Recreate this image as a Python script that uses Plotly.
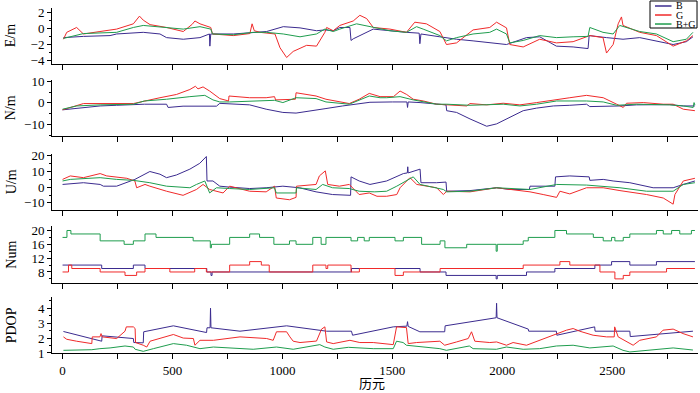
import plotly.graph_objects as go

# ---------------- data (epoch, value) ----------------
E_B = [(4,-1.15),(95,-1.0),(216,-0.9),(246,-0.7),(367,-0.5),(443,-0.7),(473,-1.15),(549,-1.35),(625,-1.15),(663,-0.7),(668,-0.7),(670,-2.2),(672,-0.7),(674,-0.7),(777,-0.7),(867,-0.5),(928,-0.4),(1004,0.2),(1080,0.05),(1155,-0.3),(1193,-0.2),(1231,-0.3),(1261,0.1),(1307,0.1),(1312,-1.5),(1322,-1.3),(1413,-0.1),(1564,-0.5),(1622,-0.6),(1625,-1.9),(1630,-0.7),(1716,-1.05),(1792,-1.35),(1867,-1.55),(1943,-1.8),(2019,-2.0),(2110,-1.15),(2170,-1.05),(2246,-2.2),(2322,-2.3),(2390,-2.5),(2395,-0.9),(2474,-1.15),(2549,-1.35),(2625,-1.15),(2701,-1.55),(2777,-2.0),(2837,-1.65),(2867,-1.05)]
E_G = [(4,-1.35),(19,-0.5),(64,0.1),(95,-0.7),(170,-0.4),(246,-0.1),(322,0.55),(350,1.5),(367,1.0),(398,0.45),(473,0.1),(549,-0.4),(590,0.5),(602,0.9),(625,0.55),(674,0.1),(682,-0.7),(777,-0.9),(852,-0.65),(862,0.55),(872,-0.3),(898,-0.5),(966,-0.7),(989,-2.4),(1019,-3.6),(1049,-2.85),(1110,-2.1),(1155,-2.2),(1193,-0.5),(1201,0.1),(1231,-0.3),(1261,0.35),(1322,0.9),(1352,1.6),(1383,1.2),(1413,0.1),(1489,-0.1),(1564,-0.5),(1602,0.75),(1655,0.55),(1716,-0.4),(1746,-2.0),(1792,-1.8),(1867,-0.2),(1943,0.1),(1974,0.75),(2019,0.05),(2034,-2.0),(2095,-2.3),(2170,-1.35),(2246,-1.8),(2322,-1.65),(2398,-0.9),(2458,-1.15),(2474,-3.05),(2504,-2.0),(2527,0.55),(2542,1.4),(2549,0.35),(2625,-0.5),(2701,-0.9),(2777,-2.2),(2837,-1.55),(2867,-0.9)]
E_BG = [(4,-1.25),(95,-0.65),(246,-0.5),(322,0.1),(367,0.35),(473,0.05),(549,-0.1),(625,0.2),(674,-0.1),(682,-0.7),(777,-0.8),(867,-0.5),(928,-0.5),(1004,-0.7),(1080,-1.05),(1155,-0.7),(1193,-0.1),(1231,-0.4),(1261,-0.1),(1337,0.55),(1413,0.1),(1489,-0.3),(1564,-0.5),(1610,0.2),(1640,-0.1),(1716,-0.9),(1746,-1.55),(1792,-1.15),(1867,-0.7),(1943,-0.5),(1974,-0.1),(2019,-0.7),(2034,-1.8),(2095,-1.5),(2170,-0.9),(2246,-1.15),(2322,-1.05),(2390,-1.0),(2398,0.1),(2458,-0.5),(2504,-0.7),(2534,0.35),(2625,-0.4),(2701,-0.7),(2777,-1.65),(2837,-1.35),(2867,-0.5)]

N_B = [(0,-3.2),(65,-2.6),(171,-1.4),(246,-1.1),(372,-0.6),(473,-0.6),(480,-2.1),(548,-1.5),(700,-1.5),(715,-0.2),(790,-0.6),(851,-0.9),(926,-2.9),(1002,-4.4),(1062,-4.7),(1123,-3.9),(1198,-2.6),(1274,-1.4),(1349,-0.3),(1398,0.3),(1500,0.45),(1566,0.45),(1569,-2.1),(1572,0.45),(1626,0.15),(1701,-0.6),(1744,-0.9),(1747,-3.6),(1792,-4.4),(1853,-7.4),(1929,-10.8),(1974,-9.7),(2035,-6.7),(2095,-3.6),(2156,-2.4),(2232,-1.4),(2307,-1.1),(2383,-0.6),(2398,-1.7),(2459,-1.7),(2535,-1.4),(2610,-0.9),(2686,-0.9),(2762,-0.8),(2823,-1.4),(2876,-1.4)]
N_G = [(0,-3.2),(65,-1.1),(95,-0.3),(322,-0.3),(372,0.9),(443,2.4),(518,3.9),(579,6.2),(604,7.7),(616,6.5),(639,7.4),(669,5.5),(715,2.0),(755,0.9),(757,3.2),(851,2.4),(926,2.4),(964,2.9),(969,1.4),(1059,1.7),(1062,4.7),(1153,3.2),(1198,1.7),(1244,0.9),(1304,-0.3),(1349,1.7),(1395,4.4),(1444,2.9),(1505,2.9),(1535,5.5),(1565,3.9),(1595,1.7),(1641,0.9),(1701,-0.6),(1744,-0.9),(1838,-1.4),(1853,-0.3),(1929,-0.9),(2004,-0.15),(2080,-0.9),(2156,0.15),(2247,1.7),(2307,2.4),(2383,3.5),(2459,2.4),(2520,-0.6),(2550,-2.1),(2565,-0.15),(2641,0.15),(2732,-0.6),(2777,-0.6),(2823,-2.9),(2876,-3.6)]
N_BG = [(0,-2.9),(65,-1.4),(171,-0.9),(322,-0.6),(372,0.9),(473,1.7),(579,2.9),(647,3.5),(684,1.4),(715,0.45),(760,0.45),(851,0.9),(964,1.2),(1002,0.15),(1062,2.4),(1153,2.0),(1198,0.45),(1304,-0.6),(1395,3.2),(1444,2.4),(1474,2.4),(1535,2.9),(1595,1.4),(1701,-0.6),(1747,-0.6),(1853,-1.1),(2004,-0.6),(2080,-1.4),(2156,-0.6),(2247,0.9),(2383,0.9),(2459,0.45),(2520,-1.1),(2610,-0.6),(2762,-0.9),(2823,-1.4),(2868,-2.1),(2872,0.15),(2876,-1.0)]

U_B = [(0,1.7),(95,2.8),(171,1.7),(186,0.6),(246,0.6),(329,4.9),(397,9.9),(443,8.2),(473,6.0),(518,7.7),(579,11.4),(624,15.1),(654,19.4),(657,3.9),(684,3.9),(715,0.6),(760,0.0),(851,-0.9),(926,-0.4),(1002,0.6),(1077,-0.4),(1153,-3.0),(1228,-4.7),(1310,-5.2),(1312,6.5),(1349,3.9),(1398,1.7),(1474,3.9),(1550,8.6),(1568,9.0),(1570,12.9),(1572,9.0),(1626,11.4),(1630,2.8),(1701,2.8),(1744,3.2),(1747,-2.6),(1853,-2.2),(1974,-0.4),(2035,-1.5),(2123,-1.5),(2126,0.6),(2239,0.6),(2242,6.5),(2307,7.1),(2395,6.5),(2398,4.3),(2459,4.9),(2504,3.9),(2580,2.8),(2686,-0.4),(2777,-0.4),(2823,1.7),(2876,3.9)]
U_G = [(0,4.9),(35,7.1),(95,6.0),(171,8.6),(201,7.1),(292,5.6),(329,3.9),(337,-0.4),(375,1.7),(397,0.6),(473,-2.6),(548,-5.2),(609,-1.5),(639,1.7),(669,-1.5),(730,-3.7),(760,0.6),(851,-2.6),(926,-3.0),(964,0.6),(972,-6.9),(1032,-8.0),(1062,-6.5),(1064,0.6),(1153,1.7),(1168,7.1),(1195,10.3),(1206,1.7),(1259,0.6),(1304,1.7),(1349,-4.7),(1395,-3.7),(1430,-5.8),(1474,-5.8),(1520,-4.7),(1535,-0.4),(1580,6.0),(1611,1.7),(1701,-0.4),(1732,-4.7),(1747,-2.6),(1853,-3.0),(1974,-0.4),(2050,-1.5),(2126,-3.0),(2186,-4.7),(2247,-6.5),(2262,-2.6),(2307,-4.3),(2383,-0.4),(2459,-0.4),(2535,-2.2),(2656,-4.7),(2732,-6.9),(2777,-10.8),(2785,-4.7),(2823,3.9),(2876,5.6)]
U_BG = [(0,3.9),(35,4.9),(171,6.0),(246,4.9),(322,4.3),(397,2.8),(473,0.6),(579,-0.4),(609,1.7),(647,3.9),(669,-3.7),(700,-0.4),(760,-0.9),(851,-1.5),(964,-0.4),(972,-3.7),(1062,-3.7),(1064,-0.4),(1153,-1.5),(1183,1.7),(1228,-0.4),(1304,-0.9),(1349,-2.6),(1420,-3.0),(1474,-2.6),(1520,0.6),(1595,6.5),(1626,1.7),(1732,-1.5),(1747,-3.0),(1853,-2.6),(1974,-0.4),(2126,-1.5),(2247,1.7),(2383,1.3),(2459,0.6),(2535,-0.4),(2656,-2.6),(2777,-2.6),(2823,1.7),(2876,2.8)]

NUM_B = [(0,10),(178,9),(322,10),(375,9),(656,8),(675,7),(680,8),(1314,9),(1626,8),(1744,7),(1972,6),(1977,7),(2110,8),(2239,9),(2421,10),(2497,11),(2580,10),(2701,11),(2876,11)]
NUM_G = [(0,8),(27,10),(42,9),(171,8),(284,7),(337,8),(375,9),(488,8),(601,9),(654,8),(760,10),(851,11),(904,10),(940,8),(1138,10),(1198,9),(1206,10),(1312,8),(1350,9),(1512,7),(1550,8),(1717,9),(2095,10),(2262,11),(2307,10),(2444,8),(2512,6),(2550,7),(2580,8),(2747,9),(2876,9)]
NUM_BG = [(0,18),(20,20),(38,19),(171,17),(280,16),(322,17),(375,19),(425,18),(594,17),(672,15),(677,16),(760,18),(851,19),(896,18),(961,16),(1032,17),(1062,16),(1138,18),(1176,16),(1198,18),(1312,17),(1342,18),(1372,17),(1395,18),(1512,17),(1550,18),(1633,16),(1717,17),(1739,15),(1838,16),(1972,14),(1977,16),(2095,17),(2118,18),(2239,20),(2292,19),(2414,18),(2459,17),(2497,18),(2512,17),(2550,18),(2580,19),(2701,20),(2732,19),(2770,20),(2807,19),(2860,20),(2876,20)]

PDOP_B = [(4,2.44),(178,1.79),(180,2.15),(322,1.97),(324,1.7),(367,1.68),(369,2.42),(504,2.82),(655,2.37),(657,2.69),(671,2.69),(673,4.0),(675,2.69),(807,2.46),(1019,2.82),(1201,2.46),(1314,2.46),(1319,2.19),(1504,2.75),(1566,2.8),(1569,3.1),(1572,2.78),(1625,2.42),(1738,2.42),(1740,2.82),(1972,3.36),(1974,4.33),(1976,3.36),(2118,2.6),(2120,2.46),(2246,2.46),(2248,2.19),(2420,2.75),(2422,2.46),(2580,2.46),(2582,2.1),(2867,2.46)]
PDOP_G = [(4,2.08),(19,1.92),(64,1.79),(133,1.63),(135,2.08),(170,2.08),(175,2.3),(180,2.08),(246,1.97),(284,2.46),(290,2.75),(322,2.75),(330,2.64),(332,1.7),(367,1.52),(383,1.4),(398,1.79),(443,1.97),(504,2.24),(549,2.0),(595,1.97),(602,1.52),(625,1.85),(686,1.85),(807,2.08),(928,1.97),(958,1.85),(973,2.42),(1019,2.42),(1034,2.08),(1049,1.79),(1080,1.7),(1155,1.8),(1178,2.6),(1193,2.75),(1201,1.74),(1231,1.63),(1307,1.85),(1352,1.7),(1413,1.7),(1504,1.56),(1519,2.75),(1564,2.7),(1572,1.63),(1610,1.7),(1716,1.79),(1738,1.52),(1792,1.74),(1845,1.97),(1860,2.42),(1875,1.79),(1943,1.7),(1974,1.74),(2019,1.52),(2049,1.7),(2110,1.52),(2170,1.85),(2231,2.15),(2292,2.53),(2322,2.64),(2352,2.46),(2413,2.19),(2474,2.08),(2509,2.08),(2511,2.75),(2527,2.08),(2580,1.63),(2595,1.52),(2625,1.85),(2701,2.08),(2731,2.53),(2777,2.6),(2822,2.3),(2867,2.08)]
PDOP_BG = [(4,1.18),(133,1.22),(170,1.29),(216,1.34),(284,1.47),(322,1.4),(330,1.25),(367,1.11),(413,1.29),(504,1.63),(564,1.52),(625,1.29),(686,1.4),(777,1.34),(867,1.25),(973,1.4),(1049,1.25),(1170,1.56),(1193,1.4),(1231,1.25),(1300,1.38),(1413,1.29),(1504,1.29),(1519,1.79),(1549,1.7),(1564,1.52),(1640,1.4),(1716,1.29),(1746,1.18),(1850,1.47),(1867,1.29),(1973,1.25),(2019,1.4),(2095,1.25),(2170,1.29),(2246,1.47),(2322,1.52),(2398,1.34),(2504,1.47),(2549,1.18),(2580,1.07),(2701,1.25),(2777,1.34),(2867,1.2)]

SERIES_NAMES = ["B", "G", "B+G"]
PANEL_TITLES = ["E/m", "N/m", "U/m", "Num", "PDOP"]
X_TICKS = [0, 500, 1000, 1500, 2000, 2500]

# ---------------- styling ----------------
COLORS = {"B": "#3b2b8f", "G": "#f02a2a", "B+G": "#1f9d4e"}
SERIF = "Liberation Serif, Times New Roman, serif"

panels = [
    dict(data=[E_B, E_G, E_BG], rng=[-4.4, 2.5], dom=[0.8377, 1.0], dtick=2, tick0=0, minor=1, shape="linear"),
    dict(data=[N_B, N_G, N_BG], rng=[-15.3, 10.6], dom=[0.6290, 0.7913], dtick=10, tick0=0, minor=5, shape="linear"),
    dict(data=[U_B, U_G, U_BG], rng=[-14.5, 21.0], dom=[0.4145, 0.5768], dtick=10, tick0=0, minor=5, shape="linear"),
    dict(data=[NUM_B, NUM_G, NUM_BG], rng=[4.9, 21.3], dom=[0.2038, 0.3681], dtick=4, tick0=0, minor=2, shape="hv"),
    dict(data=[PDOP_B, PDOP_G, PDOP_BG], rng=[1.0, 4.75], dom=[0.0, 0.1623], dtick=1, tick0=0, minor=0.5, shape="linear"),
]

fig = go.Figure()
layout = {}
annotations = []
n = len(panels)
for i, p in enumerate(panels, start=1):
    sx = "" if i == 1 else str(i)
    for name, pts in zip(SERIES_NAMES, p["data"]):
        fig.add_trace(go.Scatter(
            x=[a for a, _ in pts], y=[b for _, b in pts],
            mode="lines", name=name, showlegend=False, hoverinfo="skip",
            line=dict(color=COLORS[name], width=1, shape=p["shape"]),
            xaxis="x" + sx, yaxis="y" + sx,
        ))
    layout["xaxis" + sx] = dict(
        domain=[0, 1], range=[-48, 2890], anchor="y" + sx, automargin=False,
        showline=True, linecolor="black", linewidth=1, mirror=False,
        ticks="outside", ticklen=5, tickwidth=1, tickcolor="black",
        tickmode="array", tickvals=X_TICKS,
        showticklabels=(i == n), showgrid=False, zeroline=False,
        minor=dict(dtick=250, tick0=0, ticks="outside", ticklen=5, tickcolor="black", showgrid=False),
        tickfont=dict(family=SERIF, size=13, color="black"),
    )
    layout["yaxis" + sx] = dict(
        domain=p["dom"], range=p["rng"], anchor="x" + sx, automargin=False,
        showline=True, linecolor="black", linewidth=1,
        ticks="outside", ticklen=4, tickwidth=1, tickcolor="black",
        dtick=p["dtick"], tick0=p["tick0"], showgrid=False, zeroline=False,
        minor=dict(dtick=p["minor"], ticks="outside", ticklen=2, tickcolor="black", showgrid=False),
        tickfont=dict(family=SERIF, size=13, color="black"),
    )
    annotations.append(dict(
        text=PANEL_TITLES[i - 1], textangle=-90, xref="paper", yref="paper",
        x=-0.063, y=(p["dom"][0] + p["dom"][1]) / 2, xanchor="center", yanchor="middle",
        showarrow=False, font=dict(family=SERIF, size=14, color="black"),
    ))

annotations.append(dict(
    text="历元", xref="paper", yref="paper", x=0.495, y=-0.086,
    xanchor="center", yanchor="middle", showarrow=False,
    font=dict(family="Noto Sans CJK SC", size=13, color="black"),
))

# manual legend (compact, like the reference)
shapes = [dict(type="rect", xref="paper", yref="paper", x0=0.9257, x1=0.9985, y0=0.942, y1=1.0203,
               line=dict(color="black", width=1), fillcolor="white", layer="above")]
row_y = [1.0058, 0.9797, 0.9536]
for name, yy in zip(SERIES_NAMES, row_y):
    shapes.append(dict(type="line", xref="paper", yref="paper", x0=0.9334, x1=0.9590, y0=yy, y1=yy,
                       line=dict(color=COLORS[name], width=1.5), layer="above"))
    annotations.append(dict(text=name, xref="paper", yref="paper", x=0.9635, y=yy,
                            xanchor="left", yanchor="middle", showarrow=False,
                            font=dict(family=SERIF, size=10, color="black")))

fig.update_layout(
    **layout,
    width=700, height=393,
    margin=dict(l=52, r=2, t=8, b=40, autoexpand=False),
    paper_bgcolor="white", plot_bgcolor="white",
    showlegend=False, hovermode=False,
    annotations=annotations, shapes=shapes,
    font=dict(family=SERIF, color="black"),
)

fig.write_html(
    "out.html",
    config={"displayModeBar": False, "staticPlot": True},
    post_script="document.body.style.margin='0px';document.body.style.padding='0px';document.body.style.overflow='hidden';",
)
